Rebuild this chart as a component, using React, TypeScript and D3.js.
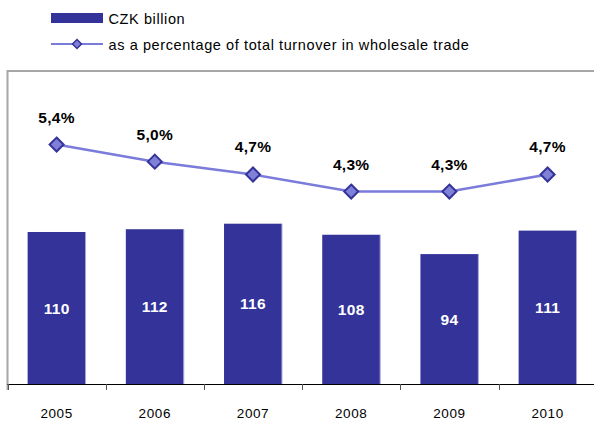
import React from "react";
import * as d3 from "d3";

const years = ["2005", "2006", "2007", "2008", "2009", "2010"];
const czkBillion = [110, 112, 116, 108, 94, 111];
const sharePct = [5.4, 5.0, 4.7, 4.3, 4.3, 4.7];
const legendLabels = ["CZK billion", "as a percentage of total turnover in wholesale trade"];

const W = 594;
const H = 423;
const plot = { left: 7.5, top: 71, bottom: 384, step: 98.2 };
const FONT = "'Liberation Sans', Arial, Helvetica, sans-serif";

const BAR = "#333399";
const LINE = "#7b7bdb";
const MARK_FILL = "#8080d8";

function diamond(cx: number, cy: number, r: number) {
  return `M${cx},${cy - r}L${cx + r},${cy}L${cx},${cy + r}L${cx - r},${cy}Z`;
}

export default function App() {
  const right = plot.left + plot.step * years.length;
  const x = d3
    .scaleBand<string>()
    .domain(years)
    .range([plot.left, right])
    .paddingInner(0.41)
    .paddingOuter(0.205);
  const yBar = d3.scaleLinear().domain([0, 226.5]).range([plot.bottom, plot.top]);
  const yPct = d3.scaleLinear().domain([-0.2, 7.12]).range([plot.bottom, plot.top]);

  const cx = (y: string) => (x(y) as number) + x.bandwidth() / 2;
  const pts: [number, number][] = years.map((y, i) => [cx(y), yPct(sharePct[i])]);
  const line = d3.line()(pts) as string;
  const fmt = (v: number) => v.toFixed(1).replace(".", ",") + "%";

  return (
    <svg
      width={W}
      height={H}
      style={{ position: "absolute", left: 0, top: 0, background: "#fff" }}
      fontFamily={FONT}
    >
      {/* legend */}
      <rect x={51} y={13} width={52} height={10} fill={BAR} />
      <text x={108.5} y={23.5} fontSize={14.5} letterSpacing={0.6} fill="#000">
        {legendLabels[0]}
      </text>
      <line x1={51} x2={103} y1={44} y2={44} stroke={LINE} strokeWidth={2} />
      <path d={diamond(77, 44, 4.5)} fill={MARK_FILL} stroke={BAR} strokeWidth={1.5} />
      <text x={108.5} y={49.5} fontSize={14.5} letterSpacing={0.6} fill="#000">
        {legendLabels[1]}
      </text>

      {/* plot frame */}
      <line x1={plot.left} x2={W + 2} y1={plot.top} y2={plot.top} stroke="#a6a6a6" strokeWidth={2} />
      <line x1={plot.left} x2={plot.left} y1={plot.top - 1} y2={plot.bottom + 6} stroke="#a6a6a6" strokeWidth={2} />

      {/* bars */}
      {years.map((y, i) => {
        const bx = x(y) as number;
        const top = yBar(czkBillion[i]);
        return (
          <g key={y}>
            <rect x={bx} y={top} width={x.bandwidth()} height={plot.bottom - top} fill={BAR} />
            <line x1={bx + x.bandwidth()} x2={bx + x.bandwidth()} y1={top} y2={plot.bottom} stroke="#a9a9dd" strokeWidth={1} />
            <text
              x={cx(y)}
              y={(top + plot.bottom) / 2}
              dy="0.36em"
              textAnchor="middle"
              fontSize={15.5}
              fontWeight="bold"
              letterSpacing={0.3}
              fill="#fff"
            >
              {czkBillion[i]}
            </text>
          </g>
        );
      })}

      {/* category axis */}
      <line x1={plot.left} x2={W + 2} y1={plot.bottom + 0.5} y2={plot.bottom + 0.5} stroke="#000" strokeWidth={1} />
      {d3.range(years.length + 1).map((i) => {
        const tx = Math.round(plot.left + i * plot.step) + 0.5;
        return <line key={i} x1={tx} x2={tx} y1={plot.bottom} y2={plot.bottom + 6} stroke="#555" strokeWidth={1} />;
      })}
      {years.map((y) => (
        <text key={y} x={cx(y)} y={418} textAnchor="middle" fontSize={13.5} letterSpacing={0.6} fill="#000">
          {y}
        </text>
      ))}

      {/* percentage line */}
      <path d={line} fill="none" stroke={LINE} strokeWidth={2.5} />
      {pts.map(([px, py], i) => (
        <g key={i}>
          <path d={diamond(px, py, 7)} fill={MARK_FILL} stroke={BAR} strokeWidth={2} />
          <text x={px} y={py - 22} textAnchor="middle" fontSize={15.5} fontWeight="bold" letterSpacing={0.3} fill="#000">
            {fmt(sharePct[i])}
          </text>
        </g>
      ))}
    </svg>
  );
}
